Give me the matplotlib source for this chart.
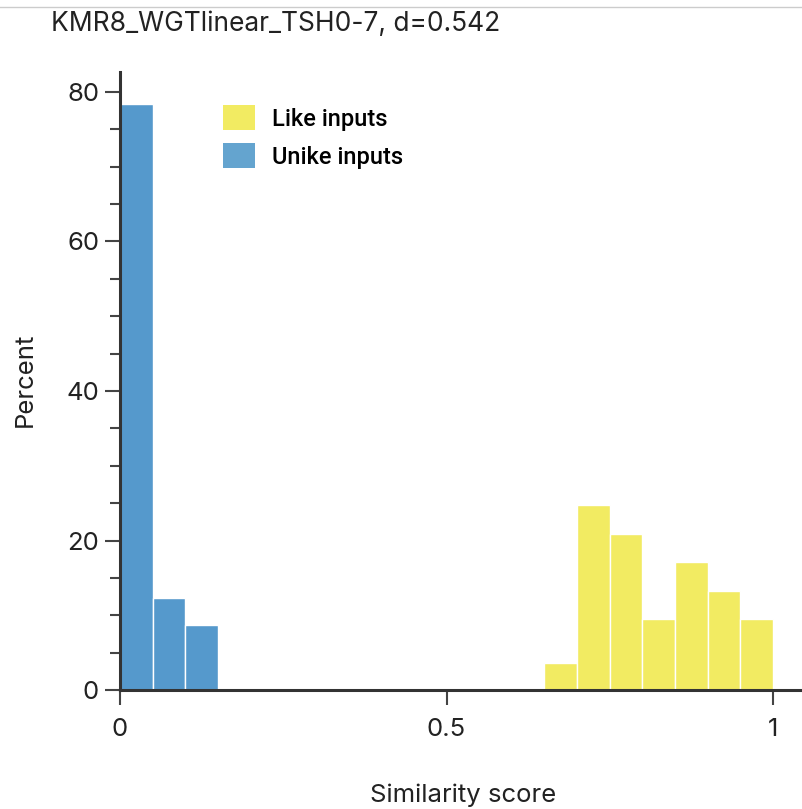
import matplotlib
matplotlib.use("Agg")
import matplotlib.pyplot as plt
from matplotlib.patches import Patch
from matplotlib.lines import Line2D
from matplotlib.ticker import MultipleLocator

# histogram data, percent per 0.05-wide bin (left edges)
unlike_left = [0.00, 0.05, 0.10]
unlike_pct = [78.4, 12.3, 8.7]
like_left = [0.65, 0.70, 0.75, 0.80, 0.85, 0.90, 0.95]
like_pct = [3.6, 24.8, 20.9, 9.5, 17.1, 13.3, 9.5]
bin_w = 0.05

x_ticks = [0, 0.5, 1]
x_tick_labels = ["0", "0.5", "1"]
y_ticks = [0, 20, 40, 60, 80]

title = "KMR8_WGTlinear_TSH0-7, d=0.542"
labels = ["Like inputs", "Unike inputs"]

BLUE = "#5599cc"
YELLOW = "#f2eb62"
BLUE_LEG = "#64a4cf"
AXC = "#333333"

plt.rcParams["font.family"] = ["Inter", "DejaVu Sans"]

W, H = 802, 809
fig = plt.figure(figsize=(W / 100, H / 100), dpi=100)
ax = fig.add_axes([120 / W, 1 - 690 / H, (W - 120) / W, (690 - 72) / H])

ax.bar(unlike_left, unlike_pct, width=bin_w, align="edge", color=BLUE,
       edgecolor="white", linewidth=1.0, zorder=2)
ax.bar(like_left, like_pct, width=bin_w, align="edge", color=YELLOW,
       edgecolor="white", linewidth=1.0, zorder=2)

ax.set_xlim(0, (W - 120) / 653)
ax.set_ylim(0, (690 - 72) / 7.475)

for side in ("top", "right"):
    ax.spines[side].set_visible(False)
for side in ("left", "bottom"):
    ax.spines[side].set_linewidth(2.2)
    ax.spines[side].set_color(AXC)
    ax.spines[side].set_zorder(3)

ax.set_xticks(x_ticks)
ax.set_xticklabels(x_tick_labels)
ax.set_yticks(y_ticks)
ax.yaxis.set_minor_locator(MultipleLocator(5))
ax.tick_params(axis="x", length=11, width=1.5, color="#444444", pad=9,
               labelsize=18.5, labelcolor="#222222")
ax.tick_params(axis="y", which="major", length=11, width=1.5, color="#444444",
               pad=4, labelsize=18.5, labelcolor="#222222")
ax.tick_params(axis="y", which="minor", length=7, width=1.5, color="#444444")

handles = [Patch(facecolor=YELLOW, edgecolor="none"),
           Patch(facecolor=BLUE_LEG, edgecolor="none")]
ax.legend(handles, labels, loc="upper left",
          bbox_to_anchor=((222 - 120) / (W - 120) - 0.012, (690 - 96) / 618),
          frameon=False, prop={"family": ["Roboto"], "size": 17, "weight": "medium"},
          handlelength=1.36, handleheight=1.23, labelspacing=0.54,
          handletextpad=0.69, borderaxespad=0)

fig.text(51 / W, 1 - 30.7 / H, title, ha="left", va="baseline",
         fontsize=19, color="#222222")
fig.text(25 / W, 1 - 380 / H, "Percent", rotation=90, ha="center",
         va="center", fontsize=18.5, color="#222222")
fig.text(463 / W, 1 - 795 / H, "Similarity score", ha="center", va="center",
         fontsize=18.5, color="#222222")
fig.add_artist(Line2D([0, 1], [1 - 7 / H, 1 - 7 / H], color="#cccccc", lw=1))

fig.savefig("out.png", dpi=100)
